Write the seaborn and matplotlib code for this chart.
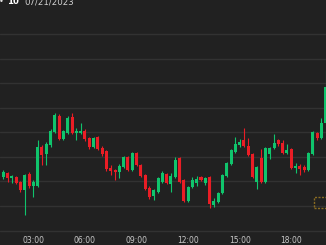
import matplotlib
matplotlib.use("Agg")
import matplotlib.pyplot as plt
import seaborn as sns
import numpy as np
import pandas as pd
from matplotlib.patches import Rectangle

# 15-minute candles, 07/21/2023, 01:00 .. 20:00
times = pd.date_range("2023-07-21 01:00", periods=77, freq="15min")
opens = [29917, 29909, 29917, 29907, 29909, 29899, 29882, 29915, 29891, 29891,
         29970, 29956, 29974, 30001, 30033, 29986, 29999, 30031, 29999, 29999,
         30003, 29989, 29970, 29991, 29968, 29962, 29927, 29923, 29919, 29929,
         29950, 29923, 29958, 29933, 29913, 29887, 29870, 29878, 29899, 29915,
         29895, 29909, 29948, 29903, 29860, 29889, 29897, 29909, 29897, 29909,
         29852, 29858, 29876, 29911, 29935, 29960, 29974, 29984, 29972, 29956,
         29899, 29948, 29899, 29956, 29968, 29984, 29978, 29958, 29966, 29927,
         29931, 29929, 29923, 29956, 29999, 29989, 30019]
highs = [29921, 29923, 29919, 29913, 29911, 29901, 29915, 29919, 29903, 29984,
         29974, 29980, 30007, 30040, 30037, 30005, 30033, 30040, 30009, 30019,
         30007, 29991, 29991, 29993, 29972, 29964, 29933, 29925, 29935, 29952,
         29952, 29960, 29960, 29935, 29915, 29891, 29884, 29909, 29921, 29917,
         29917, 29950, 29950, 29905, 29891, 29909, 29911, 29911, 29909, 29911,
         29866, 29878, 29915, 29940, 29966, 29991, 29986, 30009, 29989, 29958,
         29931, 29966, 29970, 29970, 29997, 29986, 29984, 29976, 29968, 29937,
         29935, 29933, 29960, 30003, 30001, 30029, 30127]
lows = [29909, 29905, 29899, 29897, 29895, 29878, 29831, 29887, 29868, 29889,
        29933, 29933, 29970, 29999, 29984, 29984, 29997, 29997, 29984, 29997,
        29982, 29966, 29968, 29964, 29952, 29921, 29913, 29903, 29907, 29927,
        29921, 29921, 29931, 29909, 29882, 29864, 29862, 29876, 29897, 29895,
        29878, 29907, 29897, 29858, 29858, 29887, 29891, 29901, 29893, 29846,
        29848, 29856, 29874, 29909, 29933, 29958, 29970, 29970, 29952, 29907,
        29884, 29897, 29897, 29946, 29966, 29972, 29956, 29956, 29925, 29917,
        29913, 29919, 29921, 29954, 29984, 29986, 30017]
closes = [29913, 29919, 29907, 29911, 29897, 29882, 29913, 29891, 29899, 29970,
          29954, 29976, 30003, 30035, 29986, 30003, 30029, 29999, 30003, 30003,
          29986, 29970, 29989, 29966, 29956, 29925, 29921, 29919, 29931, 29950,
          29923, 29958, 29933, 29911, 29884, 29868, 29882, 29907, 29917, 29897,
          29911, 29944, 29899, 29860, 29889, 29903, 29905, 29903, 29907, 29854,
          29860, 29876, 29913, 29937, 29964, 29976, 29980, 29972, 29954, 29909,
          29929, 29899, 29968, 29968, 29978, 29976, 29958, 29964, 29927, 29931,
          29925, 29923, 29958, 30001, 29989, 30019, 30093]

hour_ticks = [3, 6, 9, 12, 15, 18]
hour_labels = ["03:00", "06:00", "09:00", "12:00", "15:00", "18:00"]
grid_levels = [29800, 29850, 29900, 29950, 30000, 30050, 30100, 30150, 30200]

BG = "#212121"
GRID = "#323232"
UP = "#10c46c"
DOWN = "#ea1d25"

sns.set_theme(style="dark", rc={
    "figure.facecolor": BG, "axes.facecolor": BG,
    "axes.edgecolor": BG, "grid.color": GRID,
})
plt.rcParams["font.family"] = ["DejaVu Sans"]

df = pd.DataFrame({"time": times, "open": opens, "high": highs,
                   "low": lows, "close": closes})
df["hour"] = df["time"].dt.hour + df["time"].dt.minute / 60.0
df["up"] = df["close"] >= df["open"]
df["color"] = np.where(df["up"], UP, DOWN)
df["bottom"] = df[["open", "close"]].min(axis=1)
df["height"] = (df["close"] - df["open"]).abs().clip(lower=1.6)

fig = plt.figure(figsize=(3.26, 2.45), dpi=100)
ax = fig.add_axes([0, 12 / 245, 1, 233 / 245])
ax.set_facecolor(BG)

ax.vlines(df["hour"], df["low"], df["high"], colors=df["color"], linewidth=0.8, zorder=2)
ax.bar(df["hour"], df["height"], bottom=df["bottom"], width=0.175,
       color=df["color"], linewidth=0, zorder=3)

ax.set_xlim(1.06, 20.02)
ax.set_ylim(29794.9, 30270.4)
ax.set_yticks(grid_levels)
ax.set_yticklabels([])
ax.set_xticks(hour_ticks)
ax.set_xticklabels(hour_labels)
ax.tick_params(axis="x", length=0, pad=2.2, labelsize=5.5, labelcolor="#c9c9c9")
ax.tick_params(axis="y", length=0)
ax.grid(axis="y", color=GRID, linewidth=1.0, zorder=0)
ax.grid(axis="x", visible=False)
for s in ax.spines.values():
    s.set_visible(False)

# header text (cut off at the top edge, as in the source)
fig.text(-0.004, 1.012, "•", color="#e0e0e0", fontsize=6, va="top", ha="left")
fig.text(0.022, 1.012, "10", color="#ffffff", fontsize=6.2, fontweight="bold", va="top", ha="left")
fig.text(0.074, 1.012, "07/21/2023", color="#d0d0d0", fontsize=6.2, va="top", ha="left")

# dashed golden icon box at lower right
box = Rectangle((314 / 326, (245 - 208) / 245), 14 / 326, 11 / 245,
                transform=fig.transFigure, fill=False, edgecolor="#8a6c22",
                linewidth=1.0, linestyle=(0, (1.5, 1.0)), zorder=5)
fig.patches.append(box)

fig.savefig("out.png", dpi=100, facecolor=BG)
